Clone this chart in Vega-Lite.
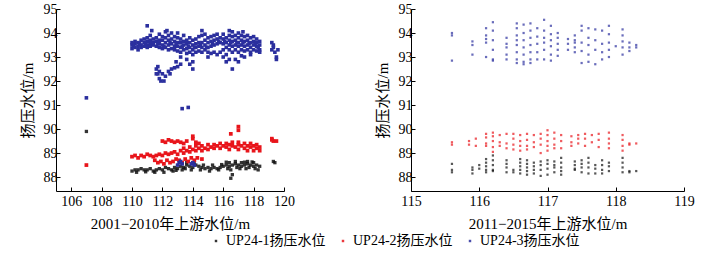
{
"$schema":"https://vega.github.io/schema/vega-lite/v6.json",
"background":"white",
"padding":{"left":20,"top":2,"right":5,"bottom":2},
"config":{
 "font":"Liberation Serif, Noto Sans CJK SC",
 "view":{"stroke":null},
 "axis":{"grid":false,"domainColor":"#000","tickColor":"#000","tickSize":-4,"labelFontSize":14,"labelColor":"#000","titleFontSize":15,"titleFontWeight":"normal","titleColor":"#000","labelOverlap":false,"labelFlush":false},
 "axisX":{"labelPadding":7,"titlePadding":8},
 "axisY":{"labelPadding":3,"titlePadding":8},
 "legend":{"orient":"none","legendX":153,"legendY":225,"direction":"horizontal","title":null,"labelFontSize":14,"labelColor":"#000","symbolSize":6,"symbolType":"square","columnPadding":10,"labelOffset":3,"padding":0},
 "concat":{"spacing":80}
},
"datasets":{
"L1":[{"x":110.0,"y":88.25},{"x":110.2,"y":88.3},{"x":110.4,"y":88.3},{"x":110.6,"y":88.35},{"x":110.8,"y":88.3},{"x":111.0,"y":88.3},{"x":111.2,"y":88.35},{"x":111.4,"y":88.25},{"x":111.6,"y":88.3},{"x":111.8,"y":88.35},{"x":112.0,"y":88.3},{"x":112.2,"y":88.4},{"x":112.4,"y":88.35},{"x":112.6,"y":88.3},{"x":112.8,"y":88.4},{"x":113.0,"y":88.35},{"x":113.2,"y":88.45},{"x":113.4,"y":88.4},{"x":113.6,"y":88.5},{"x":113.8,"y":88.45},{"x":114.0,"y":88.4},{"x":114.2,"y":88.5},{"x":114.4,"y":88.45},{"x":114.6,"y":88.4},{"x":114.8,"y":88.35},{"x":115.0,"y":88.4},{"x":115.2,"y":88.35},{"x":115.4,"y":88.4},{"x":115.6,"y":88.35},{"x":115.8,"y":88.4},{"x":116.0,"y":88.45},{"x":116.2,"y":88.5},{"x":116.4,"y":88.45},{"x":116.6,"y":88.5},{"x":116.8,"y":88.55},{"x":117.0,"y":88.5},{"x":117.2,"y":88.45},{"x":117.4,"y":88.5},{"x":117.6,"y":88.55},{"x":117.8,"y":88.5},{"x":118.0,"y":88.45},{"x":118.2,"y":88.5},{"x":118.4,"y":88.45},
{"x":111.5,"y":88.2},{"x":112.1,"y":88.2},{"x":112.7,"y":88.25},{"x":113.3,"y":88.3},{"x":113.9,"y":88.3},{"x":114.5,"y":88.3},{"x":115.1,"y":88.25},{"x":115.7,"y":88.3},{"x":116.3,"y":88.35},{"x":116.9,"y":88.4},{"x":117.5,"y":88.35},{"x":118.1,"y":88.35},{"x":116.4,"y":88.6},{"x":116.8,"y":88.65},{"x":117.2,"y":88.6},{"x":117.6,"y":88.65},{"x":118.0,"y":88.6},{"x":114.0,"y":88.6},{"x":113.6,"y":88.6},
{"x":110.3,"y":88.2},{"x":110.9,"y":88.22},{"x":112.9,"y":88.28},{"x":113.5,"y":88.35},{"x":114.1,"y":88.55},{"x":114.7,"y":88.5},{"x":115.3,"y":88.5},{"x":115.9,"y":88.52},{"x":116.5,"y":88.3},{"x":117.1,"y":88.35},{"x":117.7,"y":88.4},{"x":118.3,"y":88.3},{"x":116.2,"y":88.62},{"x":117.4,"y":88.62},{"x":117.9,"y":88.63},
{"x":119.3,"y":88.65},{"x":119.4,"y":88.6},{"x":116.5,"y":87.95},{"x":107.0,"y":89.9},{"x":116.6,"y":88.1}],
"L2":[{"x":110.0,"y":88.85},{"x":110.2,"y":88.9},{"x":110.4,"y":88.8},{"x":110.6,"y":88.9},{"x":110.8,"y":88.85},{"x":111.0,"y":88.95},{"x":111.2,"y":88.9},{"x":111.4,"y":88.85},{"x":111.6,"y":88.9},{"x":111.8,"y":88.95},{"x":112.0,"y":88.9},{"x":112.2,"y":89.0},{"x":112.4,"y":88.95},
{"x":111.5,"y":88.7},{"x":111.7,"y":88.6},{"x":111.9,"y":88.65},{"x":112.1,"y":88.55},{"x":112.3,"y":88.7},{"x":112.5,"y":88.6},{"x":112.7,"y":88.65},{"x":112.9,"y":88.75},{"x":113.1,"y":88.7},{"x":113.3,"y":88.6},{"x":113.5,"y":88.75},{"x":113.7,"y":88.65},{"x":113.9,"y":88.8},{"x":114.1,"y":88.7},{"x":114.3,"y":88.8},{"x":114.6,"y":88.75},
{"x":112.6,"y":89.0},{"x":112.8,"y":89.05},{"x":113.0,"y":88.95},{"x":113.2,"y":89.1},{"x":113.4,"y":89.0},{"x":113.6,"y":89.1},{"x":113.8,"y":89.05},{"x":114.0,"y":89.15},{"x":114.2,"y":89.1},{"x":114.4,"y":89.2},{"x":114.6,"y":89.1},{"x":114.8,"y":89.2},{"x":115.0,"y":89.15},{"x":115.2,"y":89.25},{"x":115.4,"y":89.2},{"x":115.6,"y":89.3},{"x":115.8,"y":89.2},{"x":116.0,"y":89.3},{"x":116.2,"y":89.25},{"x":116.4,"y":89.35},{"x":116.6,"y":89.3},{"x":116.8,"y":89.25},{"x":117.0,"y":89.35},{"x":117.2,"y":89.3},{"x":117.4,"y":89.2},{"x":117.6,"y":89.3},{"x":117.8,"y":89.25},{"x":118.0,"y":89.3},{"x":118.2,"y":89.2},{"x":118.4,"y":89.25},
{"x":113.4,"y":89.2},{"x":113.8,"y":89.25},{"x":114.2,"y":89.3},{"x":114.6,"y":89.3},{"x":115.0,"y":89.35},{"x":115.4,"y":89.35},{"x":115.8,"y":89.4},{"x":116.2,"y":89.4},{"x":116.6,"y":89.45},{"x":117.0,"y":89.45},{"x":117.4,"y":89.4},{"x":117.8,"y":89.4},{"x":118.2,"y":89.35},{"x":116.4,"y":89.15},{"x":117.0,"y":89.15},{"x":117.6,"y":89.1},{"x":118.0,"y":89.1},{"x":118.4,"y":89.1},
{"x":112.0,"y":89.5},{"x":112.2,"y":89.45},{"x":112.4,"y":89.55},{"x":112.6,"y":89.5},{"x":112.8,"y":89.45},{"x":113.0,"y":89.5},{"x":113.2,"y":89.45},{"x":113.4,"y":89.4},{"x":113.6,"y":89.5},{"x":114.0,"y":89.6},{"x":114.2,"y":89.45},{"x":114.4,"y":89.4},{"x":114.0,"y":89.7},
{"x":107.0,"y":88.5},{"x":117.0,"y":90.1},{"x":117.0,"y":89.95},{"x":116.5,"y":89.8},{"x":119.2,"y":89.6},{"x":119.3,"y":89.5},{"x":119.5,"y":89.5},{"x":119.2,"y":89.55}],
"L3":[{"x":110.0,"y":93.35},{"x":110.0,"y":93.5},{"x":110.0,"y":93.6},{"x":110.2,"y":93.4},{"x":110.2,"y":93.55},{"x":110.2,"y":93.65},{"x":110.4,"y":93.45},{"x":110.4,"y":93.6},{"x":110.4,"y":93.3},{"x":110.6,"y":93.5},{"x":110.6,"y":93.7},{"x":110.6,"y":93.4},{"x":110.8,"y":93.45},{"x":110.8,"y":93.6},{"x":110.8,"y":93.75},
{"x":111.0,"y":93.5},{"x":111.0,"y":93.65},{"x":111.0,"y":93.4},{"x":111.0,"y":93.8},{"x":111.2,"y":93.55},{"x":111.2,"y":93.7},{"x":111.2,"y":93.45},{"x":111.2,"y":93.9},{"x":111.4,"y":93.5},{"x":111.4,"y":93.6},{"x":111.4,"y":93.75},{"x":111.6,"y":93.45},{"x":111.6,"y":93.65},{"x":111.6,"y":93.8},{"x":111.8,"y":93.4},{"x":111.8,"y":93.55},{"x":111.8,"y":93.7},{"x":111.8,"y":93.95},
{"x":112.0,"y":93.35},{"x":112.0,"y":93.5},{"x":112.0,"y":93.7},{"x":112.0,"y":93.85},{"x":112.2,"y":93.4},{"x":112.2,"y":93.6},{"x":112.2,"y":93.8},{"x":112.2,"y":94.05},{"x":112.4,"y":93.3},{"x":112.4,"y":93.5},{"x":112.4,"y":93.7},{"x":112.4,"y":93.9},{"x":112.6,"y":93.35},{"x":112.6,"y":93.55},{"x":112.6,"y":93.75},{"x":112.6,"y":94.0},{"x":112.8,"y":93.3},{"x":112.8,"y":93.45},{"x":112.8,"y":93.65},{"x":112.8,"y":93.85},
{"x":113.0,"y":93.25},{"x":113.0,"y":93.45},{"x":113.0,"y":93.6},{"x":113.0,"y":93.8},{"x":113.2,"y":93.2},{"x":113.2,"y":93.4},{"x":113.2,"y":93.6},{"x":113.2,"y":93.75},{"x":113.2,"y":93.0},{"x":113.4,"y":93.3},{"x":113.4,"y":93.5},{"x":113.4,"y":93.65},{"x":113.4,"y":93.9},{"x":113.6,"y":93.15},{"x":113.6,"y":93.35},{"x":113.6,"y":93.55},{"x":113.6,"y":93.7},{"x":113.6,"y":92.9},{"x":113.8,"y":93.2},{"x":113.8,"y":93.4},{"x":113.8,"y":93.6},{"x":113.8,"y":93.8},{"x":113.8,"y":92.7},
{"x":114.0,"y":93.1},{"x":114.0,"y":93.3},{"x":114.0,"y":93.5},{"x":114.0,"y":93.7},{"x":114.0,"y":92.5},{"x":114.0,"y":92.8},{"x":114.2,"y":93.2},{"x":114.2,"y":93.4},{"x":114.2,"y":93.55},{"x":114.2,"y":93.75},{"x":114.4,"y":93.25},{"x":114.4,"y":93.45},{"x":114.4,"y":93.6},{"x":114.4,"y":93.85},{"x":114.6,"y":93.2},{"x":114.6,"y":93.4},{"x":114.6,"y":93.6},{"x":114.6,"y":93.9},{"x":114.6,"y":94.1},{"x":114.8,"y":93.3},{"x":114.8,"y":93.5},{"x":114.8,"y":93.7},{"x":114.8,"y":93.95},
{"x":115.0,"y":93.2},{"x":115.0,"y":93.4},{"x":115.0,"y":93.6},{"x":115.0,"y":93.8},{"x":115.0,"y":93.0},{"x":115.2,"y":93.15},{"x":115.2,"y":93.45},{"x":115.2,"y":93.65},{"x":115.2,"y":93.85},{"x":115.4,"y":93.5},{"x":115.4,"y":93.7},{"x":115.4,"y":93.9},{"x":115.4,"y":93.2},{"x":115.6,"y":93.55},{"x":115.6,"y":93.75},{"x":115.6,"y":93.95},{"x":115.6,"y":93.1},{"x":115.8,"y":93.6},{"x":115.8,"y":93.8},{"x":115.8,"y":93.2},
{"x":116.0,"y":93.55},{"x":116.0,"y":93.75},{"x":116.0,"y":93.95},{"x":116.0,"y":93.3},{"x":116.0,"y":93.0},{"x":116.2,"y":93.4},{"x":116.2,"y":93.6},{"x":116.2,"y":93.8},{"x":116.2,"y":93.1},{"x":116.2,"y":92.8},{"x":116.4,"y":93.3},{"x":116.4,"y":93.5},{"x":116.4,"y":93.7},{"x":116.4,"y":93.9},{"x":116.4,"y":92.9},{"x":116.6,"y":93.2},{"x":116.6,"y":93.45},{"x":116.6,"y":93.65},{"x":116.6,"y":93.85},{"x":116.6,"y":94.05},{"x":116.6,"y":92.5},{"x":116.8,"y":93.3},{"x":116.8,"y":93.5},{"x":116.8,"y":93.7},{"x":116.8,"y":93.9},{"x":116.8,"y":92.9},
{"x":117.0,"y":93.2},{"x":117.0,"y":93.45},{"x":117.0,"y":93.6},{"x":117.0,"y":93.8},{"x":117.0,"y":94.0},{"x":117.0,"y":92.8},{"x":117.2,"y":93.3},{"x":117.2,"y":93.5},{"x":117.2,"y":93.7},{"x":117.2,"y":93.9},{"x":117.2,"y":93.05},{"x":117.4,"y":93.25},{"x":117.4,"y":93.45},{"x":117.4,"y":93.65},{"x":117.4,"y":93.85},{"x":117.4,"y":93.0},{"x":117.6,"y":93.3},{"x":117.6,"y":93.5},{"x":117.6,"y":93.7},{"x":117.6,"y":93.9},{"x":117.8,"y":93.2},{"x":117.8,"y":93.4},{"x":117.8,"y":93.6},{"x":117.8,"y":93.8},{"x":117.8,"y":93.1},
{"x":118.0,"y":93.3},{"x":118.0,"y":93.5},{"x":118.0,"y":93.65},{"x":118.0,"y":93.85},{"x":118.2,"y":93.25},{"x":118.2,"y":93.45},{"x":118.2,"y":93.6},{"x":118.2,"y":93.75},{"x":118.4,"y":93.3},{"x":118.4,"y":93.5},{"x":118.4,"y":93.65},{"x":118.4,"y":93.2},
{"x":110.1,"y":93.45},{"x":110.5,"y":93.55},{"x":110.9,"y":93.55},{"x":111.3,"y":93.6},{"x":111.7,"y":93.55},{"x":112.1,"y":93.45},{"x":112.5,"y":93.6},{"x":112.9,"y":93.55},{"x":113.3,"y":93.45},{"x":113.7,"y":93.45},{"x":114.1,"y":93.4},{"x":114.5,"y":93.5},{"x":114.9,"y":93.4},{"x":115.3,"y":93.55},{"x":115.7,"y":93.65},{"x":116.1,"y":93.65},{"x":116.5,"y":93.6},{"x":116.9,"y":93.6},{"x":117.3,"y":93.6},{"x":117.7,"y":93.55},{"x":118.1,"y":93.55},{"x":118.3,"y":93.4},
{"x":111.0,"y":94.3},{"x":111.3,"y":94.1},{"x":112.3,"y":94.1},{"x":113.0,"y":94.0},{"x":116.4,"y":94.1},{"x":117.3,"y":94.05},
{"x":111.6,"y":92.5},{"x":111.7,"y":92.3},{"x":111.8,"y":92.1},{"x":111.9,"y":92.0},{"x":112.0,"y":92.3},{"x":112.1,"y":92.0},{"x":112.2,"y":92.2},{"x":112.4,"y":92.4},{"x":112.6,"y":92.5},{"x":112.8,"y":92.55},{"x":113.0,"y":92.6},{"x":113.2,"y":92.7},{"x":111.6,"y":92.3},{"x":111.7,"y":92.6},{"x":112.5,"y":92.3},{"x":112.9,"y":92.8},{"x":111.8,"y":92.4},
{"x":119.2,"y":93.6},{"x":119.3,"y":93.4},{"x":119.2,"y":93.3},{"x":119.4,"y":93.2},{"x":119.5,"y":93.0},{"x":119.5,"y":92.9},{"x":119.6,"y":93.3},{"x":119.3,"y":93.5},
{"x":107.0,"y":91.3},{"x":113.3,"y":90.85},{"x":113.7,"y":90.9},
{"x":113.1,"y":88.6},{"x":113.2,"y":88.65},{"x":113.3,"y":88.55},{"x":113.0,"y":88.5},{"x":113.9,"y":88.55},{"x":114.0,"y":88.6},{"x":114.1,"y":88.5}],
"R1":[{"x":115.6,"y":88.55},{"x":115.6,"y":88.3},{"x":115.6,"y":88.2},{"x":115.9,"y":88.4},{"x":115.9,"y":88.3},{"x":115.9,"y":88.15},{"x":116.0,"y":88.5},{"x":116.0,"y":88.35},{"x":116.1,"y":88.75},{"x":116.1,"y":88.6},{"x":116.1,"y":88.45},{"x":116.1,"y":88.3},{"x":116.1,"y":88.2},{"x":116.2,"y":88.9},{"x":116.2,"y":88.7},{"x":116.2,"y":88.5},{"x":116.2,"y":88.3},{"x":116.2,"y":88.25},{"x":116.4,"y":88.7},{"x":116.4,"y":88.55},{"x":116.4,"y":88.4},{"x":116.4,"y":88.2},{"x":116.5,"y":88.3},{"x":116.5,"y":88.2},{"x":116.6,"y":88.75},{"x":116.6,"y":88.6},{"x":116.6,"y":88.45},{"x":116.6,"y":88.3},{"x":116.6,"y":88.15},{"x":116.7,"y":88.7},{"x":116.7,"y":88.55},{"x":116.7,"y":88.4},{"x":116.7,"y":88.25},{"x":116.7,"y":88.1},{"x":116.8,"y":88.6},{"x":116.8,"y":88.45},{"x":116.8,"y":88.3},{"x":116.8,"y":88.15},{"x":116.9,"y":88.65},{"x":116.9,"y":88.5},{"x":116.9,"y":88.3},{"x":116.9,"y":88.05},{"x":117.0,"y":88.7},{"x":117.0,"y":88.55},{"x":117.0,"y":88.35},{"x":117.0,"y":88.1},{"x":117.1,"y":88.65},{"x":117.1,"y":88.5},{"x":117.1,"y":88.4},{"x":117.1,"y":88.2},{"x":117.2,"y":88.8},{"x":117.2,"y":88.6},{"x":117.2,"y":88.4},{"x":117.2,"y":88.25},{"x":117.2,"y":88.1},{"x":117.4,"y":88.65},{"x":117.4,"y":88.5},{"x":117.4,"y":88.35},{"x":117.4,"y":88.3},{"x":117.5,"y":88.7},{"x":117.5,"y":88.55},{"x":117.5,"y":88.4},{"x":117.5,"y":88.2},{"x":117.6,"y":88.8},{"x":117.6,"y":88.6},{"x":117.6,"y":88.4},{"x":117.6,"y":88.15},{"x":117.7,"y":88.5},{"x":117.7,"y":88.35},{"x":117.7,"y":88.15},{"x":117.8,"y":88.7},{"x":117.8,"y":88.5},{"x":117.8,"y":88.3},{"x":117.8,"y":88.15},{"x":117.9,"y":88.6},{"x":117.9,"y":88.45},{"x":117.9,"y":88.25},{"x":118.1,"y":88.8},{"x":118.1,"y":88.6},{"x":118.1,"y":88.4},{"x":118.1,"y":88.2},{"x":118.2,"y":88.25},{"x":118.2,"y":88.2},{"x":118.3,"y":88.25}],
"R2":[{"x":115.6,"y":89.45},{"x":115.6,"y":89.35},{"x":115.85,"y":89.5},{"x":115.85,"y":89.35},{"x":115.95,"y":89.6},{"x":115.95,"y":89.3},{"x":116.1,"y":89.8},{"x":116.1,"y":89.65},{"x":116.1,"y":89.4},{"x":116.1,"y":89.3},{"x":116.2,"y":89.85},{"x":116.2,"y":89.7},{"x":116.2,"y":89.5},{"x":116.2,"y":89.25},{"x":116.2,"y":89.05},{"x":116.3,"y":89.75},{"x":116.3,"y":89.45},{"x":116.3,"y":89.3},{"x":116.4,"y":89.8},{"x":116.4,"y":89.4},{"x":116.4,"y":89.2},{"x":116.5,"y":89.8},{"x":116.5,"y":89.6},{"x":116.5,"y":89.35},{"x":116.5,"y":89.15},{"x":116.6,"y":89.75},{"x":116.6,"y":89.5},{"x":116.6,"y":89.3},{"x":116.6,"y":89.1},{"x":116.7,"y":89.8},{"x":116.7,"y":89.55},{"x":116.7,"y":89.3},{"x":116.7,"y":89.15},{"x":116.8,"y":89.75},{"x":116.8,"y":89.45},{"x":116.8,"y":89.25},{"x":116.9,"y":89.8},{"x":116.9,"y":89.6},{"x":116.9,"y":89.35},{"x":116.9,"y":89.0},{"x":117.0,"y":89.95},{"x":117.0,"y":89.75},{"x":117.0,"y":89.5},{"x":117.0,"y":89.3},{"x":117.0,"y":89.1},{"x":117.1,"y":89.85},{"x":117.1,"y":89.6},{"x":117.1,"y":89.35},{"x":117.1,"y":89.2},{"x":117.2,"y":89.75},{"x":117.2,"y":89.5},{"x":117.2,"y":89.2},{"x":117.35,"y":89.7},{"x":117.35,"y":89.45},{"x":117.35,"y":89.3},{"x":117.45,"y":89.75},{"x":117.45,"y":89.6},{"x":117.45,"y":89.4},{"x":117.55,"y":89.8},{"x":117.55,"y":89.6},{"x":117.55,"y":89.3},{"x":117.65,"y":89.75},{"x":117.65,"y":89.45},{"x":117.75,"y":89.8},{"x":117.75,"y":89.55},{"x":117.75,"y":89.25},{"x":117.9,"y":89.85},{"x":117.9,"y":89.6},{"x":117.9,"y":89.4},{"x":117.9,"y":89.2},{"x":118.1,"y":89.75},{"x":118.1,"y":89.55},{"x":118.1,"y":89.3},{"x":118.1,"y":89.1},{"x":118.2,"y":89.4},{"x":118.2,"y":89.35},{"x":118.3,"y":89.4}],
"R3":[{"x":115.6,"y":93.9},{"x":115.6,"y":94.0},{"x":115.6,"y":92.85},{"x":115.9,"y":93.5},{"x":115.9,"y":93.65},{"x":115.9,"y":93.1},{"x":116.1,"y":94.2},{"x":116.1,"y":93.9},{"x":116.1,"y":93.6},{"x":116.1,"y":93.0},{"x":116.1,"y":93.75},{"x":116.2,"y":94.45},{"x":116.2,"y":94.1},{"x":116.2,"y":93.7},{"x":116.2,"y":93.3},{"x":116.2,"y":92.9},{"x":116.2,"y":92.85},{"x":116.4,"y":93.8},{"x":116.4,"y":93.55},{"x":116.4,"y":93.4},{"x":116.4,"y":93.1},{"x":116.4,"y":92.9},{"x":116.55,"y":94.4},{"x":116.55,"y":94.2},{"x":116.55,"y":93.9},{"x":116.55,"y":93.7},{"x":116.55,"y":93.5},{"x":116.55,"y":93.2},{"x":116.55,"y":92.9},{"x":116.55,"y":92.75},{"x":116.65,"y":94.35},{"x":116.65,"y":94.0},{"x":116.65,"y":93.7},{"x":116.65,"y":93.4},{"x":116.65,"y":93.1},{"x":116.65,"y":92.8},{"x":116.65,"y":92.7},{"x":116.75,"y":94.4},{"x":116.75,"y":94.1},{"x":116.75,"y":93.8},{"x":116.75,"y":93.5},{"x":116.75,"y":93.2},{"x":116.75,"y":92.9},{"x":116.75,"y":92.75},{"x":116.85,"y":94.2},{"x":116.85,"y":93.85},{"x":116.85,"y":93.55},{"x":116.85,"y":93.2},{"x":116.85,"y":92.9},{"x":116.95,"y":94.55},{"x":116.95,"y":94.1},{"x":116.95,"y":93.8},{"x":116.95,"y":93.6},{"x":116.95,"y":93.3},{"x":116.95,"y":92.9},{"x":117.05,"y":94.3},{"x":117.05,"y":93.95},{"x":117.05,"y":93.7},{"x":117.05,"y":93.45},{"x":117.05,"y":93.1},{"x":117.05,"y":92.85},{"x":117.15,"y":94.0},{"x":117.15,"y":93.8},{"x":117.15,"y":93.55},{"x":117.15,"y":93.3},{"x":117.15,"y":93.05},{"x":117.3,"y":93.75},{"x":117.3,"y":93.55},{"x":117.3,"y":93.3},{"x":117.4,"y":93.9},{"x":117.4,"y":93.6},{"x":117.4,"y":93.4},{"x":117.4,"y":93.2},{"x":117.4,"y":93.7},{"x":117.5,"y":94.3},{"x":117.5,"y":94.1},{"x":117.5,"y":93.6},{"x":117.5,"y":93.25},{"x":117.5,"y":92.75},{"x":117.6,"y":94.2},{"x":117.6,"y":93.8},{"x":117.6,"y":93.5},{"x":117.6,"y":93.1},{"x":117.6,"y":92.8},{"x":117.7,"y":94.15},{"x":117.7,"y":93.7},{"x":117.7,"y":93.3},{"x":117.7,"y":92.7},{"x":117.8,"y":94.1},{"x":117.8,"y":93.55},{"x":117.8,"y":93.2},{"x":117.8,"y":92.9},{"x":117.9,"y":94.3},{"x":117.9,"y":93.95},{"x":117.9,"y":93.6},{"x":117.9,"y":93.3},{"x":117.9,"y":93.0},{"x":118.0,"y":93.45},{"x":118.1,"y":94.15},{"x":118.1,"y":93.9},{"x":118.1,"y":93.65},{"x":118.1,"y":93.4},{"x":118.1,"y":93.1},{"x":118.2,"y":93.6},{"x":118.2,"y":93.4},{"x":118.2,"y":93.25},{"x":118.3,"y":93.5},{"x":118.3,"y":93.4}]
},
"hconcat":[
 {"width":228,"height":182,
  "encoding":{
   "x":{"field":"x","type":"quantitative","scale":{"domain":[105,120],"nice":false},"axis":{"values":[106,108,110,112,114,116,118,120],"title":"2001−2010年上游水位/m"}},
   "y":{"field":"y","type":"quantitative","scale":{"domain":[87.42,95],"nice":false,"zero":false},"axis":{"values":[88,89,90,91,92,93,94,95],"title":"扬压水位/m"}}
  },
  "layer":[
   {"data":{"name":"L1"},"mark":{"type":"square","size":11,"opacity":0.85},"encoding":{"color":{"datum":"UP24-1扬压水位","type":"nominal","scale":{"domain":["UP24-1扬压水位","UP24-2扬压水位","UP24-3扬压水位"],"range":["#111111","#e8151b","#2b2f9e"]}}}},
   {"data":{"name":"L2"},"mark":{"type":"square","size":14,"opacity":1},"encoding":{"color":{"datum":"UP24-2扬压水位","type":"nominal"}}},
   {"data":{"name":"L3"},"mark":{"type":"square","size":13,"opacity":1},"encoding":{"color":{"datum":"UP24-3扬压水位","type":"nominal"}}}
  ]
 },
 {"width":273,"height":182,
  "encoding":{
   "x":{"field":"x","type":"quantitative","scale":{"domain":[115,119],"nice":false},"axis":{"values":[115,116,117,118,119],"title":"2011−2015年上游水位/m"}},
   "y":{"field":"y","type":"quantitative","scale":{"domain":[87.42,95],"nice":false,"zero":false},"axis":{"values":[88,89,90,91,92,93,94,95],"title":"扬压水位/m"}}
  },
  "layer":[
   {"data":{"name":"R1"},"mark":{"type":"square","size":5},"encoding":{"color":{"datum":"UP24-1扬压水位","type":"nominal"}}},
   {"data":{"name":"R2"},"mark":{"type":"square","size":5},"encoding":{"color":{"datum":"UP24-2扬压水位","type":"nominal"}}},
   {"data":{"name":"R3"},"mark":{"type":"square","size":5},"encoding":{"color":{"datum":"UP24-3扬压水位","type":"nominal"}}}
  ]
 }
],
"resolve":{"scale":{"color":"shared"}}
}
